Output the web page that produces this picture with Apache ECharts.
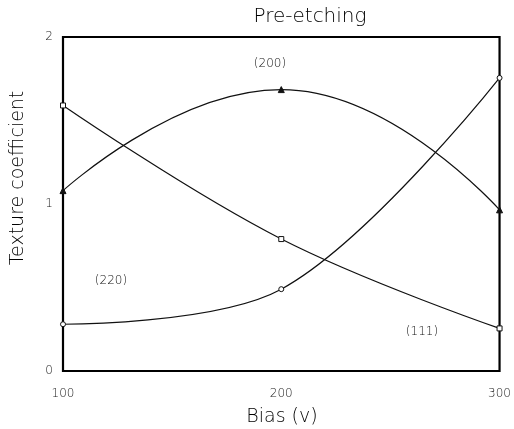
<!DOCTYPE html>
<html>
<head>
<meta charset="utf-8">
<script src="https://cdn.jsdelivr.net/npm/echarts@6/dist/echarts.min.js"></script>
<style>
html,body{margin:0;padding:0;background:#fff;}
#c{width:514px;height:429px;}
</style>
</head>
<body>
<div id="c"></div>
<script>
var biasValues = [100, 200, 300];
var tc111 = [1.59, 0.79, 0.255];
var tc200 = [1.08, 1.685, 0.965];
var tc220 = [0.28, 0.49, 1.755];
var yTicks = [0, 1, 2];

function pairs(v){ return biasValues.map(function(x,i){ return [x, v[i]]; }); }

var F = 'DejaVu Sans';
var W = 200;
var chart = echarts.init(document.getElementById('c'), null, {renderer:'canvas'});
var lineStyle = {color:'#111', width:1.2};
chart.setOption({
  animation:false,
  backgroundColor:'#fff',
  grid:{left:63, right:11, top:37, bottom:58, show:true, borderColor:'#000', borderWidth:2.2},
  xAxis:{type:'value', min:100, max:300, interval:100,
    axisLine:{show:false}, axisTick:{show:false}, splitLine:{show:false},
    axisLabel:{fontFamily:F, fontWeight:W, fontSize:12, color:'#222', margin:17, showMaxLabel:true}},
  yAxis:{type:'value', min:0, max:2, interval:1,
    axisLine:{show:false}, axisTick:{show:false}, splitLine:{show:false},
    axisLabel:{fontFamily:F, fontWeight:W, fontSize:12, color:'#222', margin:10}},
  series:[
    {name:'(111)', type:'line', data:pairs(tc111), smooth:0.4, symbol:'rect', symbolSize:5,
      itemStyle:{color:'#fff', borderColor:'#111', borderWidth:1}, lineStyle:lineStyle},
    {name:'(200)', type:'line', data:pairs(tc200), smooth:0.5, symbol:'triangle', symbolSize:6,
      itemStyle:{color:'#111', borderColor:'#111', borderWidth:1}, lineStyle:lineStyle},
    {name:'(220)', type:'line', data:pairs(tc220), smooth:0.35, symbol:'circle', symbolSize:5,
      itemStyle:{color:'#fff', borderColor:'#111', borderWidth:1}, lineStyle:lineStyle}
  ],
  graphic:[
    {type:'text', style:{text:'Pre-etching', fontFamily:F, fontWeight:W, fontSize:20, fill:'#000', x:310, y:17, textAlign:'center', textVerticalAlign:'middle'}},
    {type:'text', style:{text:'Bias (v)', fontFamily:F, fontWeight:W, fontSize:19, fill:'#000', x:282, y:417, textAlign:'center', textVerticalAlign:'middle'}},
    {type:'text', x:18, y:178, rotation:Math.PI/2, style:{text:'Texture coefficient', fontFamily:F, fontWeight:W, fontSize:19, fill:'#000', x:0, y:0, textAlign:'center', textVerticalAlign:'middle'}},
    {type:'text', style:{text:'(200)', fontFamily:F, fontWeight:W, fontSize:12, fill:'#111', x:270, y:64, textAlign:'center', textVerticalAlign:'middle'}},
    {type:'text', style:{text:'(220)', fontFamily:F, fontWeight:W, fontSize:12, fill:'#111', x:111, y:281, textAlign:'center', textVerticalAlign:'middle'}},
    {type:'text', style:{text:'(111)', fontFamily:F, fontWeight:W, fontSize:12, fill:'#111', x:422, y:332, textAlign:'center', textVerticalAlign:'middle'}}
  ]
});
</script>
</body>
</html>
